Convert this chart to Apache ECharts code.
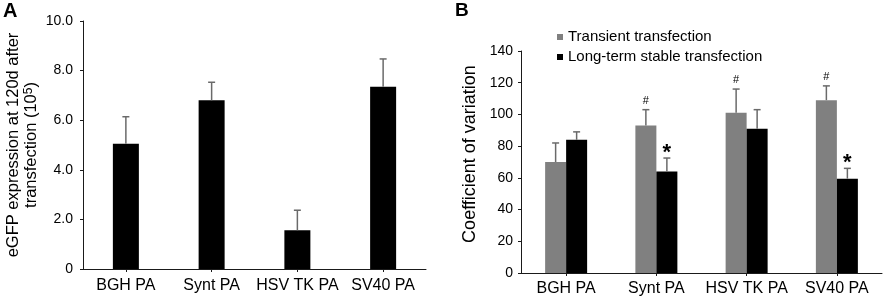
<!DOCTYPE html>
<html>
<head>
<meta charset="utf-8">
<script src="https://cdn.jsdelivr.net/npm/echarts@6/dist/echarts.min.js"></script>
<style>html,body{margin:0;padding:0;background:#fff}#c{width:886px;height:299px}</style>
</head>
<body>
<div id="c"></div>
<script>
const categories = ['BGH PA', 'Synt PA', 'HSV TK PA', 'SV40 PA'];
// Panel A
const eGFP = [5.05, 6.8, 1.56, 7.35];
const eGFPErrTop = [6.14, 7.53, 2.37, 8.47];
const yTicksA = [0, 2, 4, 6, 8, 10];
// Panel B
const transient = [70, 93, 101, 109];
const transientErrTop = [82, 103, 116, 118];
const stable = [84, 64, 91, 59.5];
const stableErrTop = [89, 72.5, 103, 66];
const transientMarks = ['', '#', '#', '#'];
const stableMarks = ['', '*', '', '*'];

const FONT = 'Liberation Sans, Arial, sans-serif';
const chart = echarts.init(document.getElementById('c'), null, {renderer: 'canvas'});

function errRender(offset, marks, markStyle) {
  return function (params, api) {
    const base = api.coord([api.value(0), api.value(1)]);
    const top = api.coord([api.value(0), api.value(2)]);
    const cx = base[0] + offset;
    const children = [
      {type: 'line', shape: {x1: cx, y1: base[1], x2: cx, y2: top[1]}, style: {stroke: '#6a6a6a', lineWidth: 1.5}},
      {type: 'line', shape: {x1: cx - 3.5, y1: top[1], x2: cx + 3.5, y2: top[1]}, style: {stroke: '#6a6a6a', lineWidth: 1.5}}
    ];
    const m = marks ? marks[params.dataIndex] : '';
    if (m) {
      children.push({type: 'text', x: cx, y: top[1] - markStyle.dy, style: {text: m, fontFamily: FONT, fontSize: markStyle.size, fontWeight: markStyle.weight, fill: '#000', align: 'center', verticalAlign: 'middle'}});
    }
    return {type: 'group', children: children};
  };
}

const axisLine = {show: true, lineStyle: {color: '#1a1a1a', width: 1}};

chart.setOption({
  animation: false,
  title: [
    {text: 'A', left: 3, top: 1, padding: 0, textStyle: {fontFamily: FONT, fontSize: 20, fontWeight: 'bold', color: '#000'}},
    {text: 'B', left: 455, top: 1, padding: 0, textStyle: {fontFamily: FONT, fontSize: 19, fontWeight: 'bold', color: '#000'}}
  ],
  legend: {
    data: ['Transient transfection', 'Long-term stable transfection'],
    orient: 'vertical', left: 557, top: 29, padding: 0, itemGap: 4,
    itemWidth: 6, itemHeight: 6, icon: 'rect',
    textStyle: {fontFamily: FONT, fontSize: 15, color: '#000', lineHeight: 16}
  },
  grid: [
    {left: 83, right: 460, top: 21, bottom: 30},
    {left: 521, right: 4, top: 51, bottom: 26}
  ],
  xAxis: [
    {type: 'category', gridIndex: 0, data: categories, axisLine: axisLine,
     axisTick: {show: true, alignWithLabel: true, length: 3, lineStyle: {color: '#1a1a1a'}},
     axisLabel: {fontFamily: FONT, fontSize: 16, color: '#000', margin: 9, interval: 0}},
    {type: 'category', gridIndex: 1, data: categories, axisLine: axisLine,
     axisTick: {show: true, alignWithLabel: true, length: 3, lineStyle: {color: '#1a1a1a'}},
     axisLabel: {fontFamily: FONT, fontSize: 16, color: '#000', margin: 8, interval: 0}}
  ],
  yAxis: [
    {type: 'value', gridIndex: 0, min: yTicksA[0], max: yTicksA[yTicksA.length - 1], interval: 2,
     axisLine: axisLine, axisTick: {show: true, length: 3, lineStyle: {color: '#1a1a1a'}}, splitLine: {show: false},
     axisLabel: {fontFamily: FONT, fontSize: 14, color: '#000', margin: 10, formatter: v => v === 0 ? '0' : v.toFixed(1)},
     name: '{n|eGFP expression at 120d after}\n{n|transfection (10}{s|5}{n|)}', nameLocation: 'middle', nameGap: 37,
     nameTextStyle: {fontFamily: FONT, color: '#000', rich: {
       n: {fontFamily: FONT, fontSize: 16.5, color: '#000', lineHeight: 18},
       s: {fontFamily: FONT, fontSize: 12, color: '#000', lineHeight: 18, verticalAlign: 'top', padding: [0, 0, 7, 0]}
     }}},
    {type: 'value', gridIndex: 1, min: 0, max: 140, interval: 20,
     axisLine: axisLine, axisTick: {show: true, length: 3, lineStyle: {color: '#1a1a1a'}}, splitLine: {show: false},
     axisLabel: {fontFamily: FONT, fontSize: 14, color: '#000', margin: 8},
     name: 'Coefficient of variation', nameLocation: 'middle', nameGap: 42,
     nameTextStyle: {fontFamily: FONT, fontSize: 18, color: '#000', padding: [0, 0, 0, 16]}}
  ],
  series: [
    {name: 'eGFP expression', type: 'bar', xAxisIndex: 0, yAxisIndex: 0, data: eGFP, barWidth: 26,
     itemStyle: {color: '#000'}},
    {type: 'custom', xAxisIndex: 0, yAxisIndex: 0, z: 5,
     data: eGFP.map((v, i) => [i, v, eGFPErrTop[i]]), renderItem: errRender(0, null, null)},
    {name: 'Transient transfection', type: 'bar', xAxisIndex: 1, yAxisIndex: 1, data: transient, barWidth: 21, barGap: '0%',
     itemStyle: {color: '#808080'}},
    {name: 'Long-term stable transfection', type: 'bar', xAxisIndex: 1, yAxisIndex: 1, data: stable, barWidth: 21, barGap: '0%',
     itemStyle: {color: '#000'}},
    {type: 'custom', xAxisIndex: 1, yAxisIndex: 1, z: 5,
     data: transient.map((v, i) => [i, v, transientErrTop[i]]),
     renderItem: errRender(-10.5, transientMarks, {size: 11, weight: 'normal', dy: 9})},
    {type: 'custom', xAxisIndex: 1, yAxisIndex: 1, z: 5,
     data: stable.map((v, i) => [i, v, stableErrTop[i]]),
     renderItem: errRender(10.5, stableMarks, {size: 22, weight: 'bold', dy: 5})}
  ]
});
</script>
</body>
</html>
